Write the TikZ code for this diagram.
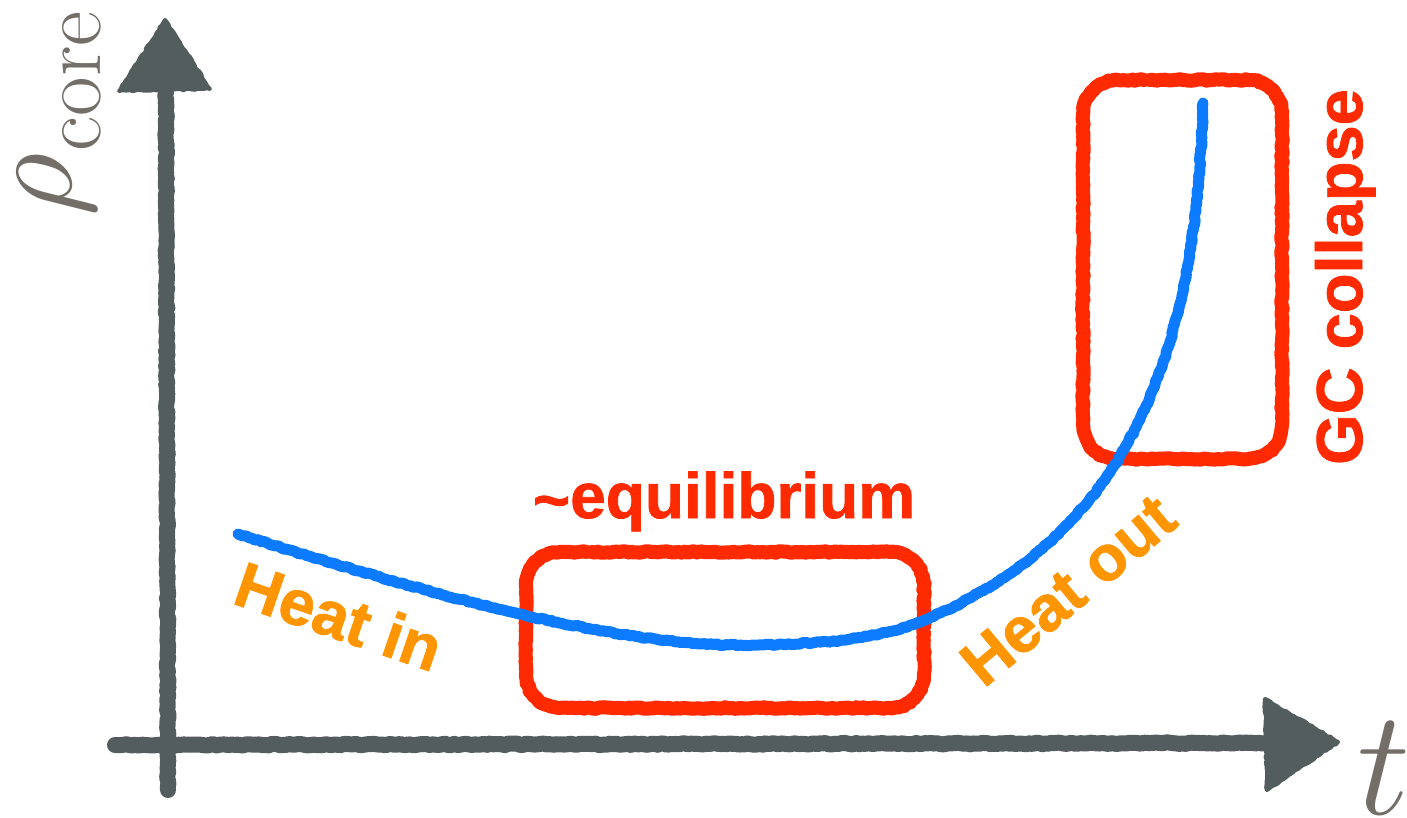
\RequirePackage{fix-cm}
\documentclass[tikz,border=0pt]{standalone}
\usepackage{fontspec}
\usetikzlibrary{decorations.pathmorphing}
\newfontfamily\labelfont{Liberation Sans}[FakeBold=1.2]
\definecolor{axisgray}{RGB}{83,93,93}
\definecolor{labelgray}{RGB}{115,110,103}
\definecolor{markred}{RGB}{255,42,0}
\definecolor{heatorange}{RGB}{255,149,0}
\definecolor{curveblue}{RGB}{12,123,255}
\tikzset{
  chalk/.style={decorate, decoration={random steps, segment length=3pt, amplitude=0.8pt}},
  axisline/.style={draw=axisgray, line width=16pt, line cap=round, line join=round},
  axishead/.style={fill=axisgray, draw=axisgray, line width=4pt, line join=round},
  regionbox/.style={draw=markred, line width=14pt, line cap=round, line join=round},
  densitycurve/.style={draw=curveblue, line width=11pt, line cap=round, line join=round},
  regionlabel/.style={text=markred, font=\labelfont\bfseries\fontsize{64}{70}\selectfont, inner sep=0pt},
  heatlabel/.style={text=heatorange, font=\labelfont\bfseries\fontsize{64}{70}\selectfont, inner sep=0pt},
  axislabel/.style={text=labelgray, inner sep=0pt}
}
\begin{document}
\begin{tikzpicture}[x=1pt, y=-1pt]
\pgfmathsetseed{7}
\useasboundingbox (0,0) rectangle (1407,818);
\fill[white] (0,0) rectangle (1407,818);

% axes
\coordinate (ybot) at (168,790);
\coordinate (ytop) at (166,92);
\coordinate (xleft) at (115,745);
\coordinate (xright) at (1266,743);
\draw[axisline, chalk] (ybot) -- (ytop);
\draw[axisline, chalk] (xleft) -- (xright);
\filldraw[axishead, chalk] (119,91) -- (165,20) -- (210,89) -- cycle;
\filldraw[axishead, chalk] (1265,699) -- (1338,742) -- (1267,790) -- cycle;

% axis labels
\node[axislabel, rotate=90, anchor=base] (ylab) at (71,114)
  {\fontsize{125}{130}\selectfont$\rho$\kern2pt\raisebox{-29pt}{\fontsize{86}{90}\selectfont core}};
\node[axislabel, anchor=base] (xlab) at (1384,814)
  {\fontsize{150}{160}\selectfont$t$};

% marked regions: hand-drawn rounded boxes, each stroke leaving a small gap on top
\draw[regionbox, chalk] (592,552) -- (890,552) .. controls (909,552) and (924,567) .. (924,586)
  -- (924,674) .. controls (924,693) and (909,708) .. (890,708)
  -- (560,708) .. controls (541,708) and (526,693) .. (526,674)
  -- (526,586) .. controls (526,567) and (541,552) .. (560,552) -- (586,552);
\draw[regionbox, chalk] (1150,80) -- (1248,80) .. controls (1267,80) and (1282,95) .. (1282,114)
  -- (1282,425) .. controls (1282,444) and (1267,459) .. (1248,459)
  -- (1117,459) .. controls (1098,459) and (1083,444) .. (1083,425)
  -- (1083,114) .. controls (1083,95) and (1098,80) .. (1117,80) -- (1144,80);

% core density against time
\coordinate (cstart) at (238,534);
\coordinate (cmin) at (740,645);
\coordinate (cexit) at (925,620);
\coordinate (cend) at (1203,104);
\draw[densitycurve, chalk] (cstart) .. controls (400,585) and (600,645) .. (cmin)
  .. controls (820,645) and (880,639) .. (cexit)
  .. controls (1100,545) and (1195,400) .. (cend);

% labels
\node[regionlabel, anchor=base] (eqlab) at (724,518) {\raisebox{-4pt}{\char`\~}equilibrium};
\node[regionlabel, rotate=90, anchor=base, font=\labelfont\bfseries\fontsize{65}{70}\selectfont] (gclab) at (1362,277) {GC collapse};
\node[heatlabel, rotate=-19] (inlab) at (339,616) {Heat in};
\node[heatlabel, rotate=40] (outlab) at (1068,590) {Heat out};
\end{tikzpicture}
\end{document}
